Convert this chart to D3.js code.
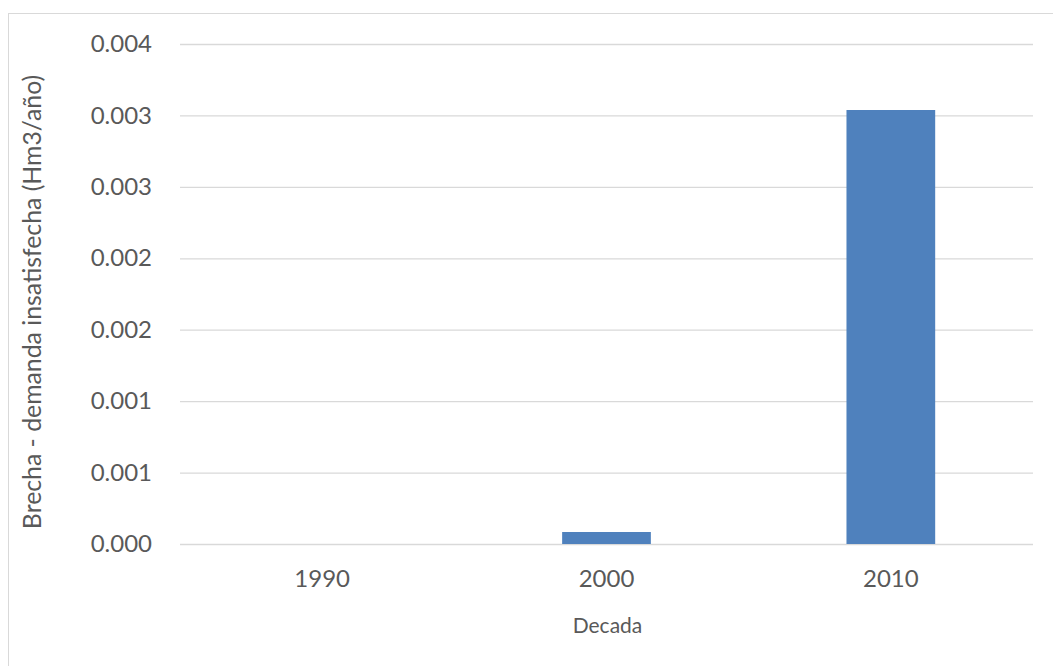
<!DOCTYPE html>
<html><head><meta charset="utf-8">
<script src="https://cdn.jsdelivr.net/npm/d3@7"></script>
<style>body{margin:0;background:#fff}svg{display:block}</style>
</head><body>
<script>
const categories = ["1990", "2000", "2010"];
const values = [0, 0.000084, 0.003038];
const tickValues = [0, 0.0005, 0.001, 0.0015, 0.002, 0.0025, 0.003, 0.0035];
const yTitle = "Brecha - demanda insatisfecha (Hm3/año)";
const xTitle = "Decada";

const W = 1053, H = 666;
const svg = d3.select("body").append("svg").attr("width", W).attr("height", H);
svg.append("rect").attr("x", 8.5).attr("y", 13.5).attr("width", 1060).attr("height", 700)
  .attr("fill", "#fff").attr("stroke", "#d9d9d9");

const m = {left: 180, right: 1033, top: 44, bottom: 544};
const x = d3.scaleBand().domain(categories).range([m.left, m.right]).paddingInner(0.688).paddingOuter(0.344);
const y = d3.scaleLinear().domain([0, 0.0035]).range([m.bottom, m.top]);

const font = "Lato, 'Open Sans', sans-serif";
const yAxis = svg.append("g").attr("transform", `translate(${m.left},0)`)
  .call(d3.axisLeft(y).tickValues(tickValues).tickFormat(d3.format(".3f")).tickSize(-(m.right - m.left)).tickPadding(28));
yAxis.select(".domain").remove();
yAxis.selectAll("line").attr("stroke", "#d9d9d9").attr("stroke-width", 1.3);
yAxis.selectAll("text").attr("fill", "#595959").style("font-family", font).style("font-size", "24px");

svg.selectAll("rect.bar").data(values).enter().append("rect").attr("class", "bar")
  .attr("x", (d, i) => x(categories[i]))
  .attr("width", x.bandwidth())
  .attr("y", d => y(d))
  .attr("height", d => y(0) - y(d))
  .attr("fill", "#4f81bd");

const xAxis = svg.append("g").attr("transform", `translate(0,${m.bottom})`)
  .call(d3.axisBottom(x).tickSize(0).tickPadding(26));
xAxis.select(".domain").remove();
xAxis.selectAll("text").attr("fill", "#595959").style("font-family", font).style("font-size", "24px");

svg.append("text").attr("x", (m.left + m.right) / 2 + 1).attr("y", 633).attr("text-anchor", "middle")
  .attr("fill", "#595959").style("font-family", font).style("font-size", "21px").text(xTitle);
const yt = svg.append("text").attr("transform", `translate(41,${302}) rotate(-90)`)
  .attr("text-anchor", "middle").attr("fill", "#595959").style("font-family", font).style("font-size", "24px").text(yTitle);
const len = yt.node().getComputedTextLength();
yt.style("font-size", (24 * 455 / len).toFixed(1) + "px");
</script>
</body></html>
